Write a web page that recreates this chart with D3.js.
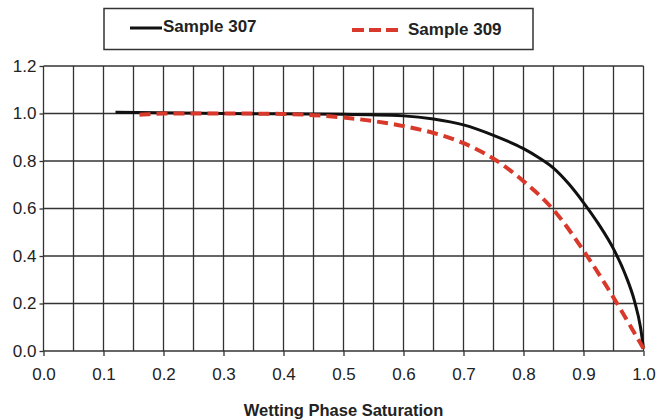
<!DOCTYPE html>
<html>
<head>
    <meta charset='UTF-8'>
    <title>Wetting Phase Saturation</title>
    <script src='https://d3js.org/d3.v7.min.js'></script>
    <style>
        body { margin: 0; background: #fff; }
        text { font-family: 'Liberation Sans', Arial, sans-serif; }
    </style>
</head>
<body>
<div id="graph"></div>
<script>
// Sample 307 (black solid)
var x307 = [0.12, 0.3, 0.5, 0.6, 0.65, 0.7, 0.75, 0.8, 0.825, 0.85, 0.875, 0.9, 0.925, 0.95, 0.97, 0.985, 0.995, 1.0];
var y307 = [1.005, 1.0, 0.997, 0.99, 0.977, 0.952, 0.908, 0.852, 0.815, 0.77, 0.705, 0.625, 0.535, 0.43, 0.32, 0.21, 0.10, 0.01];
// Sample 309 (red dashed)
var x309 = [0.16, 0.2, 0.3, 0.4, 0.45, 0.5, 0.55, 0.6, 0.65, 0.7, 0.756, 0.8, 0.848, 0.906, 0.956, 1.0];
var y309 = [0.995, 1.0, 1.0, 0.998, 0.993, 0.983, 0.968, 0.947, 0.918, 0.875, 0.8, 0.715, 0.6, 0.4, 0.2, 0.01];

var seriesNames = ['Sample 307', 'Sample 309'];
var xTicks = [0, 0.1, 0.2, 0.3, 0.4, 0.5, 0.6, 0.7, 0.8, 0.9, 1.0];
var yTicks = [0, 0.2, 0.4, 0.6, 0.8, 1.0, 1.2];
var xGrid = d3.range(0, 21).map(i => i * 0.05);

var margin = {top: 66, left: 43.5};
var width = 600;
var height = 285;

var svg = d3.select('#graph')
    .append('svg')
    .attr('width', 659)
    .attr('height', 419);

var g = svg.append('g')
    .attr('transform', 'translate(' + margin.left + ',' + margin.top + ')');

var xScale = d3.scaleLinear().domain([0, 1]).range([0, width]);
var yScale = d3.scaleLinear().domain([0, 1.2]).range([height, 0]);

// grid
g.selectAll('line.vgrid')
    .data(xGrid)
    .enter()
    .append('line')
    .attr('class', 'vgrid')
    .attr('x1', d => xScale(d))
    .attr('x2', d => xScale(d))
    .attr('y1', 0)
    .attr('y2', height)
    .style('stroke', '#333')
    .style('stroke-width', 1.3);

g.selectAll('line.hgrid')
    .data(yTicks)
    .enter()
    .append('line')
    .attr('class', 'hgrid')
    .attr('x1', 0)
    .attr('x2', width)
    .attr('y1', d => yScale(d))
    .attr('y2', d => yScale(d))
    .style('stroke', '#333')
    .style('stroke-width', 1.3);

// axes
var xAxis = g.append('g')
    .attr('transform', 'translate(0,' + height + ')')
    .call(d3.axisBottom(xScale).tickValues(xTicks).tickSizeInner(5).tickSizeOuter(0).tickPadding(12).tickFormat(d3.format('.1f')));

var yAxis = g.append('g')
    .call(d3.axisLeft(yScale).tickValues(yTicks).tickSizeInner(4).tickSizeOuter(0).tickPadding(3).tickFormat(d3.format('.1f')));

[xAxis, yAxis].forEach(a => {
    a.select('.domain').remove();
    a.selectAll('line').style('stroke', '#333').style('stroke-width', 1.3);
    a.selectAll('text')
        .style('font-size', '17px')
        .style('fill', '#222')
        .style('font-family', "'Liberation Sans', Arial, sans-serif");
});

// curves
var line = d3.line()
    .x(d => xScale(d[0]))
    .y(d => yScale(d[1]))
    .curve(d3.curveMonotoneX);

g.append('path')
    .datum(x307.map((x, i) => [x, y307[i]]))
    .attr('d', line)
    .style('fill', 'none')
    .style('stroke', '#111')
    .style('stroke-width', 3);

g.append('path')
    .datum(x309.map((x, i) => [x, y309[i]]))
    .attr('d', line)
    .style('fill', 'none')
    .style('stroke', '#d8392b')
    .style('stroke-width', 4)
    .style('stroke-dasharray', '11,6');

// x title
svg.append('text')
    .attr('x', margin.left + width / 2)
    .attr('y', 416)
    .attr('text-anchor', 'middle')
    .style('font-size', '16.5px')
    .style('font-weight', 'bold')
    .style('fill', '#222')
    .text('Wetting Phase Saturation');

// legend
var legend = svg.append('g');
legend.append('rect')
    .attr('x', 104)
    .attr('y', 8.5)
    .attr('width', 429)
    .attr('height', 41)
    .style('fill', '#fff')
    .style('stroke', '#333')
    .style('stroke-width', 1.5);

legend.append('line')
    .attr('x1', 130).attr('x2', 162)
    .attr('y1', 28).attr('y2', 28)
    .style('stroke', '#111')
    .style('stroke-width', 3);

legend.append('text')
    .attr('x', 163)
    .attr('y', 32)
    .style('font-size', '17px')
    .style('font-weight', 'bold')
    .style('fill', '#222')
    .text(seriesNames[0]);

legend.append('line')
    .attr('x1', 352).attr('x2', 399)
    .attr('y1', 30).attr('y2', 30)
    .style('stroke', '#d8392b')
    .style('stroke-width', 4)
    .style('stroke-dasharray', '12,5');

legend.append('text')
    .attr('x', 408)
    .attr('y', 35)
    .style('font-size', '17px')
    .style('font-weight', 'bold')
    .style('fill', '#222')
    .text(seriesNames[1]);
</script>
</body>
</html>
